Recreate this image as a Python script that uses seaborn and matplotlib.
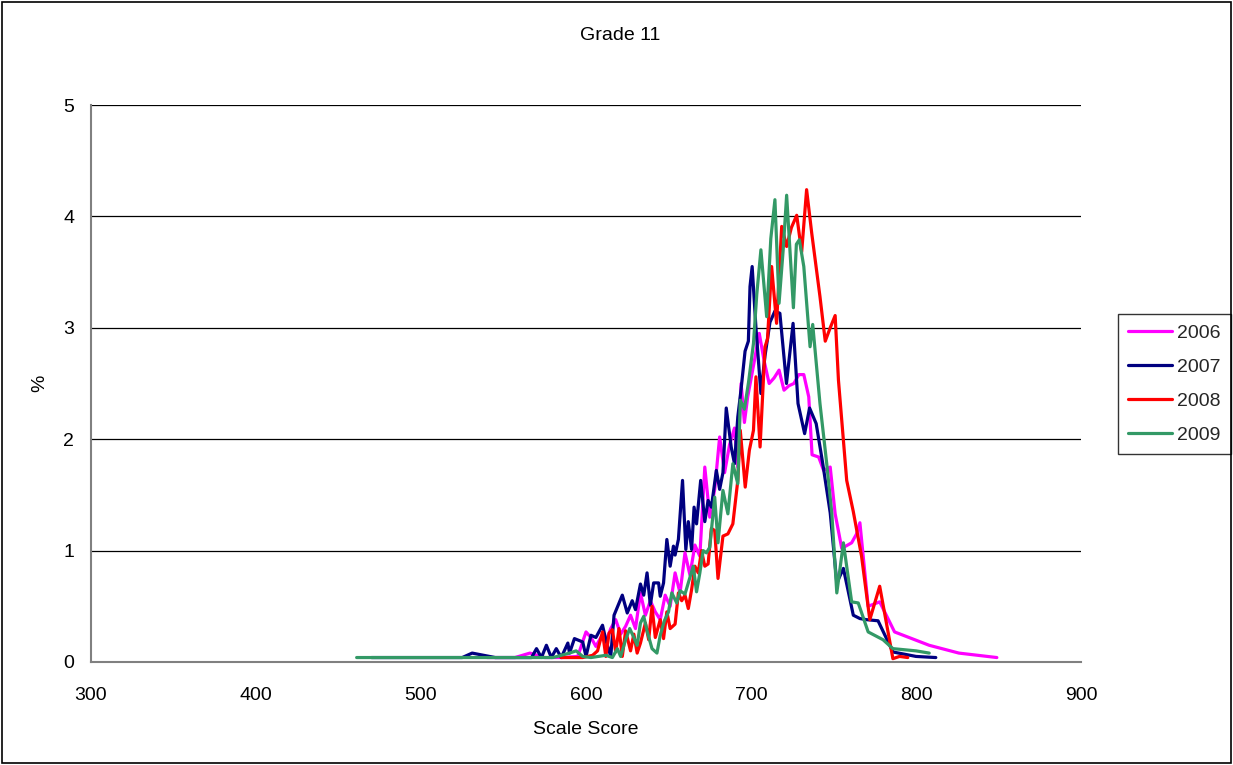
import numpy as np
import pandas as pd
import matplotlib
matplotlib.use("Agg")
import matplotlib.pyplot as plt
from matplotlib.patches import Rectangle
import seaborn as sns

title = "Grade 11"
x_label = "Scale Score"
y_label = "%"
years = ["2006", "2007", "2008", "2009"]
colors = ["#FF00FF", "#000080", "#FF0000", "#339966"]

x_2006 = [540, 557, 566, 575, 585, 595, 600, 603, 606, 609, 612, 615, 618, 621, 624, 627, 630, 633, 636,
          639, 642, 645, 648, 651, 654, 657, 660, 663, 666, 669, 672, 675, 678, 681, 684, 687, 690, 692,
          694, 696, 698, 702, 705, 708, 711, 714, 717, 720, 723, 726, 729, 732, 735, 737, 741, 744, 748,
          751, 755, 761, 764, 766, 771, 778, 787, 808, 826, 849]
y_2006 = [0.04, 0.04, 0.08, 0.04, 0.04, 0.05, 0.27, 0.22, 0.14, 0.22, 0.18, 0.30, 0.38, 0.25, 0.32, 0.42,
          0.30, 0.62, 0.42, 0.55, 0.45, 0.38, 0.60, 0.50, 0.80, 0.62, 0.98, 0.78, 1.05, 0.95, 1.75, 1.30,
          1.55, 2.02, 1.70, 1.95, 2.10, 1.75, 2.50, 2.15, 2.38, 2.70, 2.95, 2.70, 2.50, 2.55, 2.62, 2.44,
          2.48, 2.50, 2.58, 2.58, 2.38, 1.86, 1.84, 1.72, 1.75, 1.33, 1.02, 1.07, 1.15, 1.25, 0.50, 0.54,
          0.27, 0.15, 0.08, 0.04]

x_2007 = [470, 525, 531, 545, 560, 567, 570, 573, 576, 579, 582, 585, 589, 590, 593, 598, 600, 603, 606,
          610, 612, 615, 617, 622, 625, 628, 630, 633, 635, 637, 639, 641, 644, 645, 647, 649, 651, 653,
          654, 656, 658.5, 660.5, 662, 664, 665.5, 667, 669.5, 672, 674, 676, 679, 681, 683, 685, 688,
          690, 692, 694, 696.4, 698.4, 699.4, 700.7, 703, 706, 708.5, 711.5, 714.5, 717.5, 721.5, 725.5,
          728.5, 732.5, 735.5, 739.5, 743.5, 748, 752, 756, 762, 766, 770, 777, 786, 800, 812]
y_2007 = [0.04, 0.04, 0.08, 0.04, 0.04, 0.04, 0.12, 0.04, 0.15, 0.04, 0.12, 0.04, 0.17, 0.08, 0.21, 0.18,
          0.05, 0.24, 0.22, 0.33, 0.20, 0.05, 0.42, 0.60, 0.44, 0.55, 0.47, 0.70, 0.60, 0.80, 0.51, 0.71,
          0.71, 0.59, 0.71, 1.10, 0.86, 1.04, 0.96, 1.10, 1.63, 1.01, 1.26, 1.01, 1.39, 1.24, 1.63, 1.26,
          1.45, 1.39, 1.72, 1.55, 1.70, 2.28, 1.93, 1.78, 2.20, 2.45, 2.79, 2.88, 3.37, 3.55, 3.00, 2.41,
          2.75, 3.05, 3.15, 3.13, 2.50, 3.04, 2.32, 2.05, 2.28, 2.14, 1.78, 1.34, 0.71, 0.84, 0.42, 0.39,
          0.38, 0.37, 0.09, 0.05, 0.04]

x_2008 = [585, 598, 604, 607, 610, 612, 614, 616, 618, 620, 622, 624, 627, 629, 631, 633, 636, 638, 640,
          642, 645, 647, 649, 651, 654, 656, 658, 660, 662, 664, 666, 668, 670, 672, 674, 676, 678, 680,
          683, 686, 689, 692, 693.5, 696.5, 699, 701.5, 703, 705.5, 708.5, 710, 712.5, 715.5, 718.6,
          721.6, 724.5, 727.7, 730.7, 733.7, 736.8, 741.8, 745, 748, 751, 753, 758, 762, 767, 772, 778,
          786, 790, 795]
y_2008 = [0.04, 0.04, 0.06, 0.10, 0.27, 0.05, 0.26, 0.29, 0.09, 0.30, 0.05, 0.28, 0.10, 0.25, 0.08, 0.17,
          0.35, 0.20, 0.50, 0.22, 0.38, 0.21, 0.45, 0.30, 0.34, 0.62, 0.55, 0.60, 0.48, 0.65, 0.86, 0.80,
          1.00, 0.86, 0.88, 1.20, 1.18, 0.75, 1.13, 1.15, 1.24, 1.63, 2.08, 1.57, 1.90, 2.08, 2.56, 1.93,
          2.83, 2.90, 3.55, 3.04, 3.91, 3.73, 3.90, 4.01, 3.68, 4.24, 3.85, 3.28, 2.88, 3.00, 3.11, 2.53,
          1.63, 1.35, 0.95, 0.38, 0.68, 0.03, 0.05, 0.04]

x_2009 = [461, 560, 580, 590, 594, 598, 603, 612, 616, 619, 621, 624, 626.5, 629, 631, 633, 635, 637, 640,
          643, 645, 647.5, 650, 652, 655, 657, 660, 663, 665, 667, 669, 671, 673, 675, 678, 680, 683,
          686, 689, 692, 693.5, 696, 698.5, 701.5, 703.5, 706, 709.5, 712, 714.5, 717, 719.5, 721.6,
          725.7, 727.5, 729.3, 732, 735.8, 737.4, 741.8, 745.9, 749, 752, 756, 761, 765, 771, 780, 786,
          800, 808]
y_2009 = [0.04, 0.04, 0.04, 0.08, 0.10, 0.05, 0.04, 0.06, 0.04, 0.12, 0.05, 0.20, 0.30, 0.22, 0.15, 0.35,
          0.41, 0.28, 0.12, 0.08, 0.24, 0.37, 0.45, 0.62, 0.53, 0.64, 0.61, 0.76, 0.86, 0.63, 0.80, 1.00,
          0.98, 1.03, 1.48, 1.07, 1.54, 1.33, 1.78, 1.60, 2.35, 2.27, 2.51, 2.86, 3.30, 3.70, 3.10, 3.80,
          4.15, 3.22, 3.70, 4.19, 3.18, 3.75, 3.79, 3.55, 2.83, 3.03, 2.32, 1.78, 1.33, 0.62, 1.07, 0.54,
          0.53, 0.27, 0.20, 0.12, 0.10, 0.08]

x_ticks = [300, 400, 500, 600, 700, 800, 900]
y_ticks = [0, 1, 2, 3, 4, 5]

frames = []
for yr, xs, ys in zip(years, [x_2006, x_2007, x_2008, x_2009], [y_2006, y_2007, y_2008, y_2009]):
    frames.append(pd.DataFrame({"score": xs, "pct": ys, "year": yr, "order": np.arange(len(xs))}))
df = pd.concat(frames, ignore_index=True)

sns.set_theme(style="white")
plt.rcParams["font.family"] = ["Liberation Sans", "DejaVu Sans"]

FS = 14

fig = plt.figure(figsize=(12.33, 7.65), dpi=100)
ax = fig.add_axes([91 / 1233, 1 - 662 / 765, 990 / 1233, 557 / 765])

sns.lineplot(data=df, x="score", y="pct", hue="year", hue_order=years,
             palette=dict(zip(years, colors)), sort=False, estimator=None,
             linewidth=2.3, ax=ax, legend=True)

ax.set_xlim(300, 900)
ax.set_ylim(0, 5)
ax.set_xticks(x_ticks)
ax.set_yticks(y_ticks)
ax.tick_params(axis="both", labelsize=FS, direction="out", length=4, width=1,
               colors="#808080", labelcolor="black")
ax.tick_params(axis="x", pad=14)
ax.tick_params(axis="y", pad=8)
ax.grid(axis="y", color="black", linewidth=0.9)
ax.set_axisbelow(True)
for side in ["top", "right"]:
    ax.spines[side].set_visible(False)
for side in ["left", "bottom"]:
    ax.spines[side].set_color("#808080")
    ax.spines[side].set_linewidth(1.5)

ax.set_xlabel(x_label, fontsize=FS, color="black")
ax.set_ylabel(y_label, fontsize=FS, color="black")
ax.xaxis.label.set_va("center")
ax.yaxis.label.set_va("center")
ax.xaxis.set_label_coords(586 / 1233, 1 - 730 / 765, transform=fig.transFigure)
ax.yaxis.set_label_coords(40 / 1233, 1 - 383 / 765, transform=fig.transFigure)
fig.text(620 / 1233, 1 - 35 / 765, title, ha="center", va="center", fontsize=FS, color="black")

handles, labels = ax.get_legend_handles_labels()
leg = ax.legend(handles, labels, loc="center left", bbox_to_anchor=(1118 / 1233, 1 - 384 / 765),
                bbox_transform=fig.transFigure, frameon=True, fancybox=False,
                fontsize=FS, handlelength=2.3, handletextpad=0.25, labelspacing=0.85,
                borderpad=0.5, borderaxespad=0)
leg.get_frame().set_edgecolor("black")
leg.get_frame().set_linewidth(1.0)
for line in leg.get_lines():
    line.set_linewidth(2.3)

fig.patches.append(Rectangle((0.0015, 0.002), 0.997, 0.996, transform=fig.transFigure,
                             fill=False, edgecolor="black", linewidth=1.2))

fig.savefig("out.png", dpi=100)
